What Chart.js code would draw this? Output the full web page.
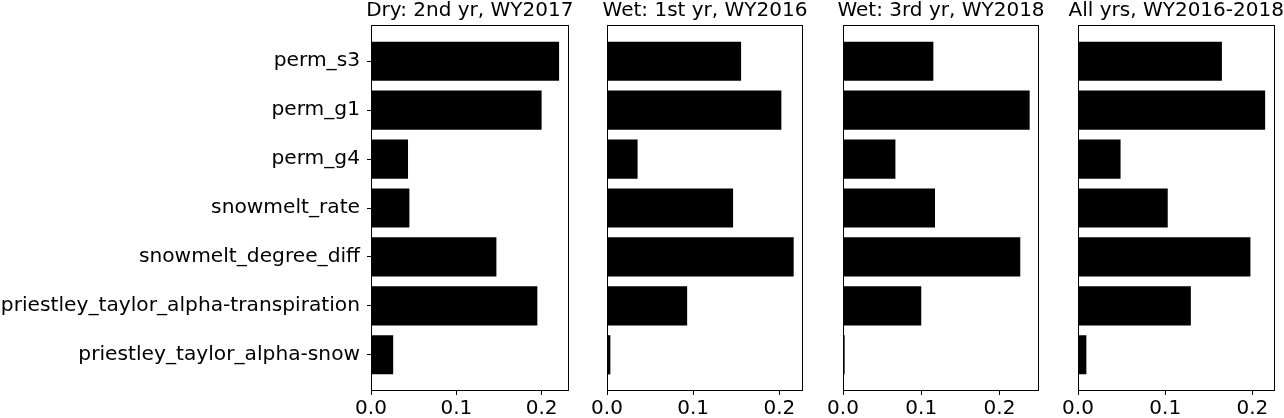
<!DOCTYPE html>
<html>
<head>
<meta charset="utf-8">
<script src="https://cdn.jsdelivr.net/npm/chart.js@4/dist/chart.umd.min.js"></script>
<style>
  body { margin: 0; background: #fff; }
  .panel { position: absolute; top: 0; height: 418px; }
</style>
</head>
<body>
<div class="panel" style="left:0px;width:600px"><canvas id="c1"></canvas></div>
<div class="panel" style="left:583px;width:250px"><canvas id="c2"></canvas></div>
<div class="panel" style="left:819px;width:250px"><canvas id="c3"></canvas></div>
<div class="panel" style="left:1054px;width:230px"><canvas id="c4"></canvas></div>
<script>
const params = ['perm_s3', 'perm_g1', 'perm_g4', 'snowmelt_rate', 'snowmelt_degree_diff',
    'priestley_taylor_alpha-transpiration', 'priestley_taylor_alpha-snow'];
const xTicks = [0, 0.1, 0.2];

const titles = ['Dry: 2nd yr, WY2017', 'Wet: 1st yr, WY2016', 'Wet: 3rd yr, WY2018', 'All yrs, WY2016-2018'];
const dry2017 = [0.2205, 0.200, 0.0434, 0.045, 0.147, 0.195, 0.026];
const wet2016 = [0.1556, 0.2023, 0.0355, 0.1463, 0.2166, 0.093, 0.0039];
const wet2018 = [0.1155, 0.2386, 0.067, 0.1176, 0.2266, 0.100, 0.0021];
const allYears = [0.165, 0.2146, 0.0488, 0.1029, 0.1977, 0.1294, 0.0096];

const FONT = 'DejaVu Sans';

// matplotlib-style box around each axes, plus the axes title centred over it
// (the built-in title squeezes text to the plot width, so draw it here)
const frame = {
    id: 'frame',
    afterDatasetsDraw(chart, args, opts) {
        const a = chart.chartArea, ctx = chart.ctx;
        const l = Math.round(a.left) + 0.5, t = Math.round(a.top) + 0.5;
        const r = Math.round(a.right) - 0.5, b = Math.round(a.bottom) - 0.5;
        ctx.save();
        ctx.strokeStyle = '#000';
        ctx.lineWidth = 1;
        ctx.strokeRect(l, t, r - l, b - t);
        ctx.fillStyle = '#000';
        ctx.font = '20px "' + FONT + '"';
        ctx.textAlign = 'center';
        ctx.textBaseline = 'alphabetic';
        ctx.fillText(opts.title, (a.left + a.right) / 2, a.top - 9);
        ctx.restore();
    }
};

function makePanel(id, title, values, showLabels, yWidth, padRight) {
    const xMax = Math.max(...values) * 1.05;
    new Chart(document.getElementById(id), {
        type: 'bar',
        data: {
            datasets: [{
                data: values.map((v, i) => ({ x: v, y: i })),
                backgroundColor: '#000',
                borderWidth: 0,
                barPercentage: 0.8,
                categoryPercentage: 1.0,
            }]
        },
        options: {
            indexAxis: 'y',
            responsive: true,
            maintainAspectRatio: false,
            animation: false,
            layout: { padding: { top: 25, left: 0, right: padRight, bottom: 0 } },
            plugins: {
                legend: { display: false },
                tooltip: { enabled: false },
                title: { display: false },
                frame: { title: title },
            },
            scales: {
                x: {
                    type: 'linear',
                    min: 0,
                    max: xMax,
                    afterBuildTicks: (scale) => { scale.ticks = xTicks.map(v => ({ value: v })); },
                    afterFit: (scale) => { scale.height = 27; },
                    grid: { drawOnChartArea: false, tickLength: 4, color: '#000' },
                    border: { display: false },
                    ticks: {
                        color: '#000',
                        padding: 2,
                        font: { family: FONT, size: 20 },
                        callback: (v) => v.toFixed(1),
                    }
                },
                y: {
                    type: 'linear',
                    reverse: true,
                    offset: false,
                    min: -0.74,
                    max: params.length - 1 + 0.74,
                    afterBuildTicks: (scale) => { scale.ticks = params.map((p, i) => ({ value: i })); },
                    afterFit: (scale) => { scale.width = yWidth; },
                    grid: { display: showLabels, offset: false, drawOnChartArea: false, tickLength: 4, color: '#000' },
                    border: { display: false },
                    ticks: {
                        display: showLabels,
                        autoSkip: false,
                        color: '#000',
                        padding: 7,
                        font: { family: FONT, size: 20.2 },
                        callback: (v) => params[v],
                    }
                }
            }
        },
        plugins: [frame]
    });
}

makePanel('c1', titles[0], dry2017, true, 371, 31.5);
makePanel('c2', titles[1], wet2016, false, 24, 30);
makePanel('c3', titles[2], wet2018, false, 24, 30);
makePanel('c4', titles[3], allYears, false, 24, 9.5);
</script>
</body>
</html>
